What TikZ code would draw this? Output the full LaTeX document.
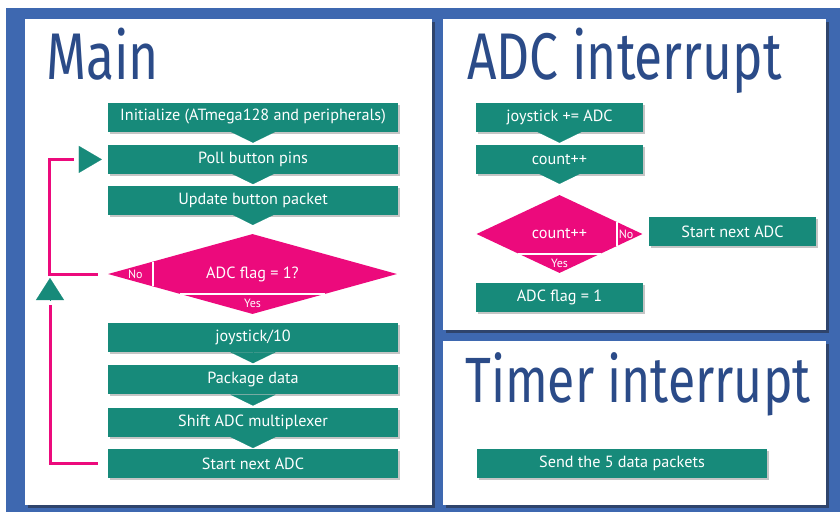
\documentclass[tikz,border=0pt]{standalone}
\usepackage{fontspec}
\setmainfont{PT Sans}
\newfontfamily\titlefont[FakeStretch=0.78]{Fira Sans}
\usetikzlibrary{arrows.meta,positioning,shapes.geometric,shadows,calc}

\definecolor{tealbox}{HTML}{178A7A}
\definecolor{pinkdec}{HTML}{EC0A7C}
\definecolor{bgblue}{HTML}{3E68B0}
\definecolor{titleblue}{HTML}{2B4B88}
\definecolor{shadegray}{HTML}{2A3550}

\begin{document}
\begin{tikzpicture}[
  x=1pt,y=-1pt,
  box/.style={rectangle,fill=tealbox,text=white,minimum width=290pt,minimum height=29pt,inner sep=0pt,font=\fontsize{16.2}{18}\selectfont,drop shadow={shadow xshift=2pt,shadow yshift=-2pt,opacity=0.45}},
  boxs/.style={box,minimum width=167pt},
  dec/.style={diamond,fill=pinkdec,text=white,inner sep=0pt,font=\fontsize{16.2}{18}\selectfont},
  sep/.style={draw=white,line width=2pt},
  tag/.style={text=white,inner sep=0pt,font=\fontsize{12}{13}\selectfont},
  flow/.style={-{Triangle[width=45pt,length=11pt]},draw=tealbox,line width=0.1pt,shorten >=2pt},
  loopline/.style={draw=pinkdec,line width=3pt},
  back/.style={-{Triangle[width=27pt,length=23pt]},draw=tealbox,line width=0.1pt},
  panel/.style={fill=white,drop shadow={shadow xshift=2.5pt,shadow yshift=-2.5pt,opacity=0.7,fill=shadegray}},
  title/.style={text=titleblue,anchor=base west,inner sep=0pt,font=\titlefont\fontsize{66}{66}\selectfont}
]
\useasboundingbox (0,0) rectangle (840,512);

% Background and panels
\fill[bgblue] (6,8) rectangle (840,512);
\path[panel] (25,19) rectangle (432,505);
\path[panel] (443,19) rectangle (826,330);
\path[panel] (443,341) rectangle (826,505);

\node[title] (tmain) at (46,79) {Main};
\node[title] (tadc) at (467,79) {ADC interrupt};
\node[title,font=\titlefont\fontsize{64}{64}\selectfont] (ttimer) at (465,402) {Timer interrupt};

% Main loop
\node[box] (init) at (253,117) {Initialize (ATmega128 and peripherals)};
\node[box,below=13pt of init] (poll) {Poll button pins};
\node[box,below=12pt of poll] (update) {Update button packet};
\node[dec,minimum width=289pt,minimum height=80pt,shape aspect=3.6] (flag) at (252.5,274) {ADC flag = 1?};
\draw[sep] ($(flag.west)!0.31!(flag.north)$) -- ($(flag.west)!0.31!(flag.south)$);
\draw[sep] ($(flag.south)!0.5!(flag.west)$) -- ($(flag.south)!0.5!(flag.east)$);
\node[tag] (flagno) at ($(flag.west)!0.095!(flag.east)$) {No};
\node[tag] (flagyes) at ($(flag.south)!0.13!(flag.north)$) {Yes};
\node[box] (joy) at (253,337.5) {joystick/10};
\node[box,below=13pt of joy] (pack) {Package data};
\node[box,below=13pt of pack] (shift) {Shift ADC multiplexer};
\node[box,below=12pt of shift] (start) {Start next ADC};

\draw[flow] (init) -- (poll);
\draw[flow] (poll) -- (update);
\draw[flow,shorten >=9pt] (update) -- (flag);
\draw[flow] (joy) -- (pack);
\draw[flow] (pack) -- (shift);
\draw[flow,shorten >=1pt] (shift) -- (start);

% return lines
\coordinate (upbase) at (50,305);
\draw[loopline] ([xshift=-10pt]flag.west) -- ++(-48,0) |- ([xshift=-34pt]poll.west);
\draw[back] ([xshift=-29pt]poll.west) -- ([xshift=-6pt]poll.west);
\draw[loopline] ([xshift=-10pt]start.west) -| (upbase);
\draw[back,-{Triangle[width=28pt,length=22pt]}] ([yshift=5pt]upbase) -- ([yshift=27pt]upbase);

% ADC interrupt
\node[boxs] (sum) at (559.5,117) {joystick += ADC};
\node[boxs,below=13pt of sum] (count) {count++};
\node[dec,minimum width=166pt,minimum height=78pt,shape aspect=2.13] (cnt) at (559.5,234) {count++};
\draw[sep] ($(cnt.east)!0.31!(cnt.north)$) -- ($(cnt.east)!0.31!(cnt.south)$);
\draw[sep] ($(cnt.south)!0.5!(cnt.west)$) -- ($(cnt.south)!0.5!(cnt.east)$);
\node[tag] (cntno) at ($(cnt.east)!0.1!(cnt.west)$) {No};
\node[tag] (cntyes) at ($(cnt.south)!0.13!(cnt.north)$) {Yes};
\node[boxs] (next) at (732.5,231.5) {Start next ADC};
\node[boxs] (setflag) at (559.5,297.5) {ADC flag = 1};

\draw[flow] (sum) -- (count);
\draw[flow,shorten >=11pt] (count) -- (cnt);

% Timer interrupt
\node[box] (send) at (622,463) {Send the 5 data packets};

\end{tikzpicture}
\end{document}
